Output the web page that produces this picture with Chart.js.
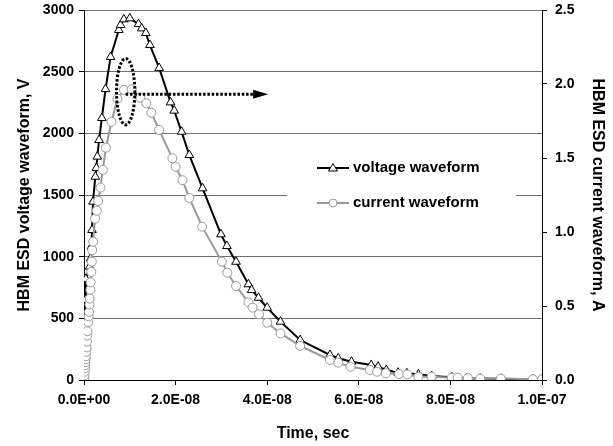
<!DOCTYPE html>
<html>
<head>
<meta charset="utf-8">
<script src="https://cdn.jsdelivr.net/npm/chart.js@4.4.1/dist/chart.umd.min.js"></script>
<style>
  html, body { margin: 0; padding: 0; background: #fff; }
  #wrap { width: 613px; height: 446px; }
</style>
</head>
<body>
<div id="wrap"><canvas id="c" width="613" height="446"></canvas></div>
<script>
// ---- data (time in ns) ----
const voltageTimeNs = [0, 0.1, 0.2, 0.3, 0.4, 1.24, 1.46, 1.6, 1.75, 1.97, 2.47, 2.7, 2.9, 3.3, 3.9, 4.7, 5.8, 7.6, 8.0, 8.7, 10.0, 11.9, 12.6, 13.5, 14.4, 16.4, 18.9, 19.7, 21.3, 23.0, 25.9, 29.9, 31.2, 33.2, 35.9, 36.6, 38.1, 40.0, 42.9, 47.2, 53.7, 55.5, 58.4, 62.7, 64.2, 66.0, 68.6, 70.5, 73.0, 75.9, 80.3, 83.6, 86.5, 91.2, 98.0, 100.0];
const voltageV = [0, 180, 420, 650, 820, 919, 986, 1081, 1216, 1446, 1648, 1719, 1811, 1946, 2124, 2359, 2619, 2838, 2878, 2924, 2932, 2886, 2851, 2813, 2716, 2530, 2251, 2184, 2013, 1824, 1554, 1181, 1086, 959, 776, 730, 667, 586, 473, 324, 203, 176, 148, 122, 108, 81, 59, 54, 46, 32, 22, 15, 12, 10, 5, 4];

const currentTimeNs = [0, 0.05, 0.1, 0.15, 0.2, 0.25, 0.3, 0.35, 0.4, 0.5, 0.55, 0.65, 0.7, 0.75, 0.9, 1.0, 1.1, 1.2, 1.25, 1.4, 1.45, 1.6, 1.7, 1.8, 2.0, 2.4, 2.8, 3.1, 3.6, 4.1, 4.8, 6.0, 7.3, 8.7, 10.4, 12.3, 13.6, 14.7, 16.4, 19.3, 20.0, 21.5, 23.0, 25.8, 30.1, 31.3, 33.2, 35.9, 36.8, 38.2, 40.0, 42.9, 47.2, 53.7, 55.5, 58.2, 62.4, 64.0, 65.9, 68.8, 70.6, 73.0, 75.9, 80.3, 81.6, 83.8, 86.5, 91.0, 98.0, 100.0];
const currentA = [0, 0.01, 0.03, 0.056, 0.08, 0.10, 0.12, 0.14, 0.16, 0.19, 0.22, 0.26, 0.30, 0.33, 0.39, 0.43, 0.46, 0.51, 0.55, 0.61, 0.66, 0.73, 0.80, 0.878, 0.934, 1.09, 1.144, 1.21, 1.30, 1.42, 1.57, 1.745, 1.90, 1.96, 1.964, 1.907, 1.87, 1.806, 1.69, 1.498, 1.441, 1.35, 1.23, 1.036, 0.80, 0.725, 0.635, 0.525, 0.489, 0.444, 0.387, 0.315, 0.23, 0.135, 0.117, 0.09, 0.068, 0.056, 0.045, 0.04, 0.038, 0.022, 0.022, 0.016, 0.016, 0.012, 0.01, 0.01, 0.005, 0.005];

const seriesNames = ['voltage waveform', 'current waveform'];
const xTitle = 'Time, sec';
const yLeftTitle = 'HBM ESD voltage waveform, V';
const yRightTitle = 'HBM ESD current waveform, A';

// annotation (data units: ns, V)
const ellipseCenter = [9.1, 2338];
const ellipseRadius = [2.0, 268];
const arrowFrom = [9.1, 2316];
const arrowTo = [40.2, 2316];

const FONT = '"Liberation Sans", Arial, Helvetica, sans-serif';

function sci(vNs) {
  const v = vNs * 1e-9;
  if (Math.abs(v) < 1e-20) return '0.0E+00';
  const parts = v.toExponential(1).split('e');
  const n = parseInt(parts[1], 10);
  return parts[0] + 'E' + (n < 0 ? '-' : '+') + String(Math.abs(n)).padStart(2, '0');
}

const overlay = {
  id: 'overlay',
  afterDatasetsDraw(chart) {
    const c = chart.ctx, x = chart.scales.x, y = chart.scales.yL, area = chart.chartArea;
    c.save();
    // ellipse
    const cx = x.getPixelForValue(ellipseCenter[0]);
    const cy = y.getPixelForValue(ellipseCenter[1]);
    const rx = Math.abs(x.getPixelForValue(ellipseCenter[0] + ellipseRadius[0]) - cx);
    const ry = Math.abs(y.getPixelForValue(ellipseCenter[1] + ellipseRadius[1]) - cy);
    c.strokeStyle = '#000';
    c.lineWidth = 3;
    c.setLineDash([2.5, 1.8]);
    c.beginPath();
    c.ellipse(cx, cy, rx, ry, 0, 0, Math.PI * 2);
    c.stroke();
    // arrow
    const ax0 = x.getPixelForValue(arrowFrom[0]);
    const ay = y.getPixelForValue(arrowFrom[1]);
    const ax1 = x.getPixelForValue(arrowTo[0]);
    const head = 15;
    c.beginPath();
    c.moveTo(ax0, ay);
    c.lineTo(ax1 - head, ay);
    c.stroke();
    c.setLineDash([]);
    c.fillStyle = '#000';
    c.beginPath();
    c.moveTo(ax1, ay);
    c.lineTo(ax1 - head, ay - 4.5);
    c.lineTo(ax1 - head, ay + 4.5);
    c.closePath();
    c.fill();

    // legend
    const lx = area.left + 203, ly = area.top + 130;
    c.fillStyle = '#fff';
    c.fillRect(lx, ly, 229, 86);
    const items = [
      {name: seriesNames[0], color: '#000', style: 'triangle', dy: 28},
      {name: seriesNames[1], color: '#999', style: 'circle', dy: 63}
    ];
    items.forEach(it => {
      const yy = ly + it.dy;
      const x0 = lx + 30, x1 = lx + 62, xm = (x0 + x1) / 2;
      c.strokeStyle = it.color;
      c.lineWidth = 2;
      c.beginPath(); c.moveTo(x0, yy); c.lineTo(x1, yy); c.stroke();
      c.lineWidth = 1;
      c.fillStyle = '#fff';
      c.beginPath();
      if (it.style === 'circle') {
        c.arc(xm, yy, 4, 0, Math.PI * 2);
      } else {
        c.moveTo(xm, yy - 4.5);
        c.lineTo(xm + 4.5, yy + 3);
        c.lineTo(xm - 4.5, yy + 3);
        c.closePath();
      }
      c.fill(); c.stroke();
      c.fillStyle = '#000';
      c.font = 'bold 15px ' + FONT;
      c.textBaseline = 'middle';
      c.textAlign = 'left';
      c.fillText(it.name, x1 + 4, yy);
    });
    c.restore();
  }
};

const tickFont = {family: FONT, size: 14, weight: 'bold'};
const titleFont = {family: FONT, size: 16, weight: 'bold'};

new Chart(document.getElementById('c'), {
  type: 'line',
  data: {
    datasets: [
      {
        label: seriesNames[1],
        data: currentTimeNs.map((t, i) => ({x: t, y: currentA[i]})),
        yAxisID: 'yR',
        borderColor: '#999999',
        borderWidth: 2,
        pointStyle: 'circle',
        pointRadius: 4.5,
        pointBorderWidth: 1,
        pointBorderColor: '#999999',
        pointBackgroundColor: '#ffffff',
        tension: 0,
        order: 0
      },
      {
        label: seriesNames[0],
        data: voltageTimeNs.map((t, i) => ({x: t, y: voltageV[i]})),
        yAxisID: 'yL',
        borderColor: '#000000',
        borderWidth: 2,
        pointStyle: 'triangle',
        pointRadius: 5,
        pointBorderWidth: 1,
        pointBorderColor: '#000000',
        pointBackgroundColor: '#ffffff',
        tension: 0,
        order: 1
      }
    ]
  },
  options: {
    responsive: false,
    animation: false,
    layout: {padding: {left: 0, right: 0, top: 10, bottom: 0}},
    plugins: {legend: {display: false}, tooltip: {enabled: false}},
    scales: {
      x: {
        type: 'linear', min: 0, max: 100,
        ticks: {stepSize: 20, callback: v => sci(v), font: tickFont, color: '#000', padding: 7, maxRotation: 0, autoSkip: false},
        grid: {drawOnChartArea: false, drawTicks: true, tickLength: 5, color: '#000'},
        border: {color: '#000', width: 1},
        title: {display: true, text: xTitle, font: titleFont, color: '#000', padding: {top: 0, bottom: 3}},
        afterFit(s) { s.height = 66; }
      },
      yL: {
        position: 'left', min: 0, max: 3000,
        ticks: {stepSize: 500, callback: v => String(v), font: tickFont, color: '#000', padding: 5},
        grid: {color: '#707070', tickColor: '#000', tickLength: 5, lineWidth: 1},
        border: {color: '#000', width: 1},
        title: {display: true, text: yLeftTitle, font: titleFont, color: '#000', padding: {top: 15, bottom: 0}},
        afterFit(s) { s.width = 84; s.paddingTop = 0; s.paddingBottom = 0; }
      },
      yR: {
        position: 'right', min: 0, max: 2.5,
        ticks: {stepSize: 0.5, callback: v => Number(v).toFixed(1), font: tickFont, color: '#000', padding: 8},
        grid: {drawOnChartArea: false, color: '#000', tickLength: 5},
        border: {color: '#000', width: 1},
        title: {display: true, text: yRightTitle, font: titleFont, color: '#000', padding: {top: 6, bottom: 0}},
        afterFit(s) { s.width = 71; s.paddingTop = 0; s.paddingBottom = 0; }
      }
    }
  },
  plugins: [overlay]
});
</script>
</body>
</html>
